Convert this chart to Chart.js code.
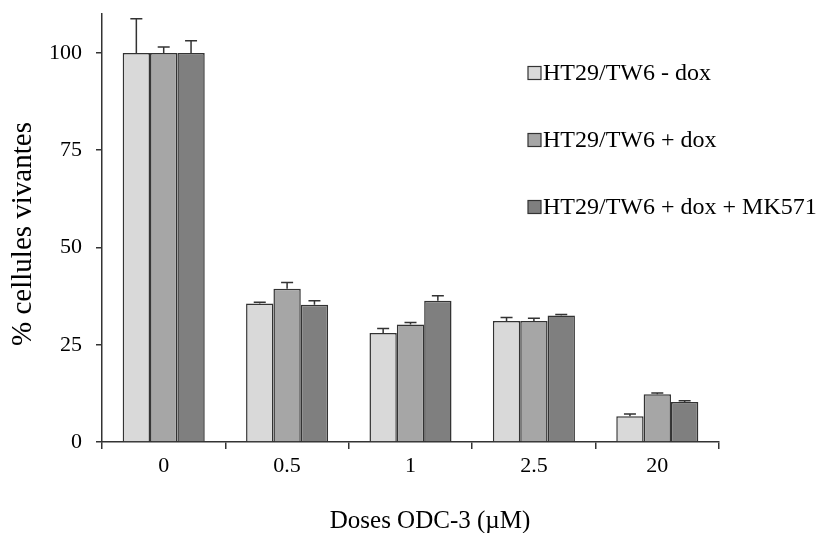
<!DOCTYPE html>
<html><head><meta charset="utf-8">
<script src="https://cdn.jsdelivr.net/npm/chart.js@4/dist/chart.umd.min.js"></script>
<style>html,body{margin:0;padding:0;background:#fff}#wrap{width:820px;height:533px}</style>
</head><body><div id="wrap"><canvas id="c" width="820" height="533"></canvas></div>
<script>
const categories = ['0', '0.5', '1', '2.5', '20'];
const seriesNames = ['HT29/TW6 - dox', 'HT29/TW6 + dox', 'HT29/TW6 + dox + MK571'];
const valuesMinusDox = [100, 35.6, 28.0, 31.1, 6.6];
const valuesPlusDox = [100, 39.4, 30.2, 31.1, 12.3];
const valuesPlusDoxMK = [100, 35.3, 36.3, 32.5, 10.3];
const errMinusDox = [8.8, 0.3, 1.2, 0.9, 0.6];
const errPlusDox = [1.5, 1.6, 0.5, 0.7, 0.3];
const errPlusDoxMK = [3.1, 1.0, 1.3, 0.3, 0.3];
const yTicks = [0, 25, 50, 75, 100];
const xTitle = 'Doses ODC-3 (µM)';
const yTitle = '% cellules vivantes';
const seriesColors = ['#d9d9d9', '#a6a6a6', '#7f7f7f'];

const FONT = "'Liberation Serif', 'Times New Roman', serif";
const EDGE = '#333333';

const errorBarPlugin = {
  id: 'errorBars',
  afterDatasetsDraw(chart) {
    const ctx = chart.ctx;
    const yScale = chart.scales.y;
    ctx.save();
    ctx.strokeStyle = EDGE;
    ctx.lineWidth = 1.5;
    chart.data.datasets.forEach((ds, i) => {
      const meta = chart.getDatasetMeta(i);
      meta.data.forEach((bar, j) => {
        const v = ds.data[j];
        const e = ds.errors[j];
        const yTop = yScale.getPixelForValue(v + e);
        ctx.beginPath();
        ctx.moveTo(bar.x, bar.y);
        ctx.lineTo(bar.x, yTop);
        ctx.moveTo(bar.x - 6, yTop);
        ctx.lineTo(bar.x + 6, yTop);
        ctx.stroke();
      });
    });
    ctx.restore();
  }
};

const legendPlugin = {
  id: 'sideLegend',
  afterDraw(chart) {
    const ctx = chart.ctx;
    ctx.save();
    const x0 = 528, ys = [73, 140, 207], size = 13;
    chart.data.datasets.forEach((ds, i) => {
      const yc = ys[i];
      ctx.fillStyle = ds.backgroundColor;
      ctx.fillRect(x0, yc - size / 2, size, size);
      ctx.strokeStyle = EDGE;
      ctx.lineWidth = 1.2;
      ctx.strokeRect(x0, yc - size / 2, size, size);
      ctx.fillStyle = '#000';
      ctx.font = "24px " + FONT;
      ctx.textBaseline = 'middle';
      ctx.textAlign = 'left';
      ctx.fillText(ds.label, x0 + 15, yc + 1);
    });
    ctx.restore();
  }
};

const axisTitlePlugin = {
  id: 'axisTitles',
  afterDraw(chart) {
    const ctx = chart.ctx;
    ctx.save();
    ctx.fillStyle = '#000';
    ctx.textAlign = 'center';
    ctx.textBaseline = 'middle';
    ctx.font = "25px " + FONT;
    ctx.fillText(xTitle, 430, 521);
    ctx.translate(23, 234);
    ctx.rotate(-Math.PI / 2);
    ctx.font = "29px " + FONT;
    ctx.fillText(yTitle, 0, 0);
    ctx.restore();
  }
};

const errorsList = [errMinusDox, errPlusDox, errPlusDoxMK];
const valuesList = [valuesMinusDox, valuesPlusDox, valuesPlusDoxMK];

new Chart(document.getElementById('c'), {
  type: 'bar',
  data: {
    labels: categories,
    datasets: seriesNames.map((name, i) => ({
      label: name,
      data: valuesList[i],
      errors: errorsList[i],
      backgroundColor: seriesColors[i],
      borderColor: EDGE,
      borderWidth: 1.5,
      barPercentage: 1.0,
      categoryPercentage: 0.665
    }))
  },
  options: {
    responsive: false,
    devicePixelRatio: 1,
    animation: false,
    layout: { padding: { left: 0, right: 101, top: 14, bottom: 0 } },
    plugins: { legend: { display: false }, tooltip: { enabled: false } },
    scales: {
      x: {
        type: 'category',
        grid: { display: true, drawOnChartArea: false, drawTicks: true, tickLength: 7, color: EDGE, lineWidth: 1.5, offset: true },
        border: { display: true, color: EDGE, width: 1.5 },
        ticks: { color: '#000', font: { family: FONT, size: 22 }, padding: 4 },
        title: { display: false },
        afterFit(s) { s.height = 91; s.paddingLeft = 0; s.paddingRight = 0; }
      },
      y: {
        min: 0,
        max: 110,
        afterBuildTicks(s) { s.ticks = yTicks.map(v => ({ value: v })); },
        grid: { display: true, drawOnChartArea: false, drawTicks: true, tickLength: 6, color: EDGE, lineWidth: 1.5 },
        border: { display: true, color: EDGE, width: 1.5 },
        ticks: { color: '#000', font: { family: FONT, size: 22 }, padding: 14 },
        title: { display: false },
        afterFit(s) { s.width = 102; s.paddingTop = 0; s.paddingBottom = 0; }
      }
    }
  },
  plugins: [errorBarPlugin, legendPlugin, axisTitlePlugin]
});
</script>
</body></html>
